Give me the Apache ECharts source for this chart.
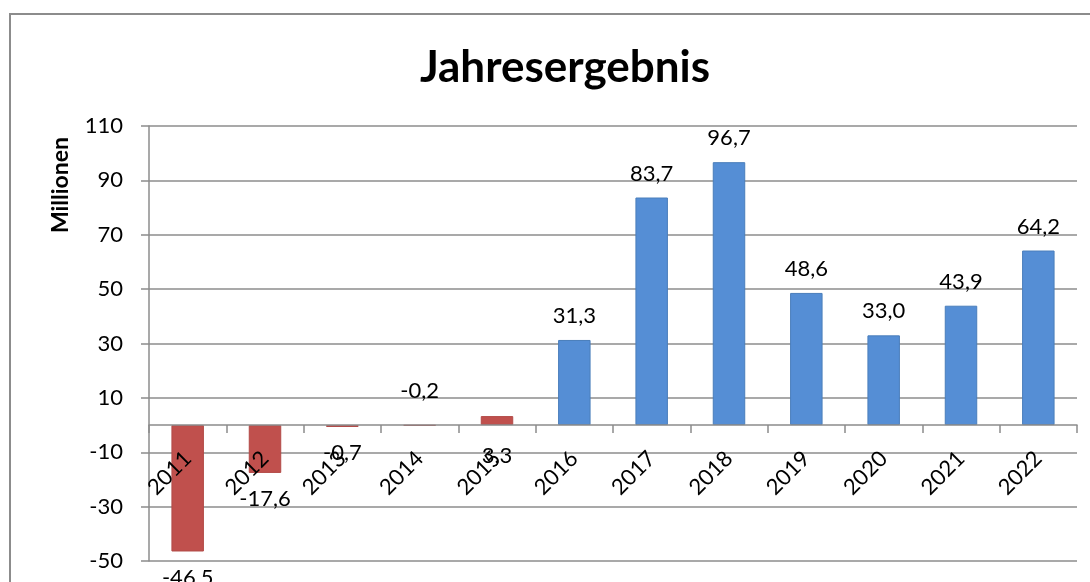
<!DOCTYPE html>
<html>
<head>
<meta charset="utf-8">
<script src="https://cdn.jsdelivr.net/npm/echarts@6/dist/echarts.min.js"></script>
<style>
	body { margin: 0; background: #fff; overflow: hidden; }
	#frame { position: absolute; left: 9px; top: 13px; width: 1200px; height: 700px; border: 2px solid #8c8c8c; }
	#main { position: absolute; left: 0; top: 0; width: 1090px; height: 582px; }
</style>
</head>
<body>
<div id="frame"></div>
<div id="main"></div>
<script>
// Jahresergebnis in Millionen
var years = ['2011', '2012', '2013', '2014', '2015', '2016', '2017', '2018', '2019', '2020', '2021', '2022'];
var results = [-46.5, -17.6, -0.7, -0.2, 3.3, 31.3, 83.7, 96.7, 48.6, 33.0, 43.9, 64.2];
var yTicks = [-50, 110, 20]; // min, max, interval

var red = '#C0504D';
var blue = '#558ED5';
var font = 'Lato, "Noto Sans", sans-serif';

var chart = echarts.init(document.getElementById('main'));

var barData = results.map(function(v, i){
	var y = parseInt(years[i], 10);
	var pos = v < 0 ? 'bottom' : 'top';
	var dist = v < 0 ? 15 : 13;
	// excel put these two labels on the odd side
	if(years[i] == '2014'){ pos = 'top'; dist = 23; }
	if(years[i] == '2015'){ pos = 'bottom'; dist = 20; }
	return {
		value: v,
		itemStyle: {
			color: y <= 2015 ? red : blue,
			borderColor: y <= 2015 ? '#B24A47' : '#4A7EBB',
			borderWidth: 1
		},
		label: {
			position: pos,
			distance: dist
		}
	};
});

var option = {
	animation: false,
	backgroundColor: 'transparent',
	title: {
		text: 'Jahresergebnis',
		left: 560,
		top: 41,
		textAlign: 'center',
		textStyle: {
			fontFamily: font,
			fontSize: 44,
			fontWeight: 'bold',
			color: '#000'
		}
	},
	graphic: [{
		type: 'text',
		x: 61,
		y: 185,
		rotation: Math.PI / 2,
		style: {
			text: 'Millionen',
			align: 'center',
			verticalAlign: 'middle',
			font: 'bold 23px ' + font,
			fill: '#000'
		}
	}],
	grid: {
		left: 149,
		right: 13,
		top: 126,
		bottom: 21,
		containLabel: false,
		outerBoundsMode: 'none'
	},
	xAxis: {
		type: 'category',
		data: years,
		z: 5,
		axisLine: {
			onZero: false,
			lineStyle: { color: '#8c8c8c', width: 1.5 }
		},
		axisTick: {
			show: true,
			length: 8,
			alignWithLabel: false,
			lineStyle: { color: '#8c8c8c', width: 1.5 }
		},
		axisLabel: {
			rotate: 45,
			margin: 30,
			interval: 0,
			color: '#000',
			fontFamily: font,
			fontSize: 22
		}
	},
	yAxis: {
		type: 'value',
		min: yTicks[0],
		max: yTicks[1],
		interval: yTicks[2],
		axisLine: {
			show: true,
			lineStyle: { color: '#8c8c8c', width: 1.5 }
		},
		axisTick: {
			show: true,
			length: 8,
			lineStyle: { color: '#8c8c8c', width: 1.5 }
		},
		splitLine: {
			show: true,
			lineStyle: { color: '#8c8c8c', width: 1.5 }
		},
		axisLabel: {
			margin: 26,
			color: '#000',
			fontFamily: font,
			fontSize: 22
		}
	},
	series: [{
		type: 'bar',
		data: barData,
		barWidth: '42%',
		label: {
			show: true,
			color: '#000',
			fontFamily: font,
			fontSize: 22,
			formatter: function(p){
				return p.value.toFixed(1).replace('.', ',');
			}
		}
	}]
};

chart.setOption(option);

// move the whole category axis (line, ticks, labels) up to the zero line
var zeroY = chart.convertToPixel({yAxisIndex: 0}, 0);
var bottomY = chart.convertToPixel({yAxisIndex: 0}, yTicks[0]);
chart.setOption({
	xAxis: { offset: zeroY - bottomY }
});
</script>
</body>
</html>
